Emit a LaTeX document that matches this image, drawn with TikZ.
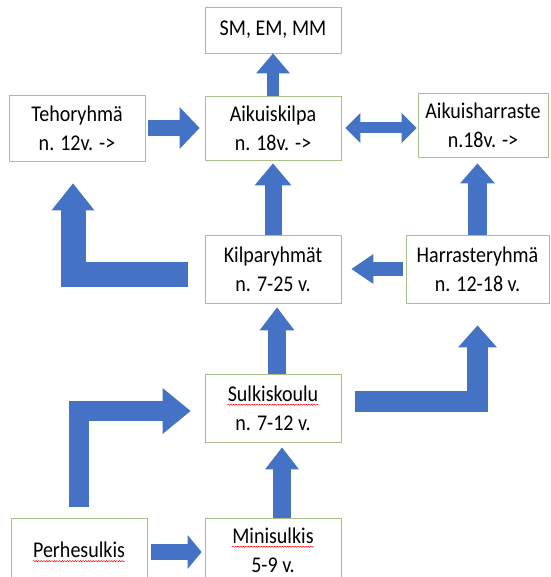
\documentclass[tikz,border=0pt]{standalone}
\usepackage{fontspec}
\setmainfont{Carlito}[FakeStretch=0.89]
\usetikzlibrary{arrows.meta, decorations.pathmorphing}
\definecolor{carrow}{HTML}{4472C4}
\definecolor{cframe}{HTML}{A9C08E}
% red wavy underline of the spell checker
\newcommand{\typo}[1]{\tikz[baseline=(wrd.base), x=1pt, y=1pt]{%
  \node[draw=none, fill=none, inner sep=0pt, minimum width=0pt, minimum height=0pt, anchor=base] (wrd) {#1};
  \draw[red, line width=0.5pt, decorate, decoration={snake, amplitude=0.6pt, segment length=2.6pt}]
    ([yshift=-3.5pt]wrd.base west) -- ([yshift=-3.5pt]wrd.base east);}}
\tikzset{
  box/.style={draw=cframe, line width=0.9pt, fill=white, align=center, inner sep=0pt,
    minimum width=136pt, minimum height=66pt, font=\fontsize{22.5}{29}\selectfont},
  blk/.style n args={3}{draw=carrow, line width=#1, line join=miter,
    -{Triangle[width=#2, length=#3, line width=0pt]}},
  blkboth/.style n args={3}{draw=carrow, line width=#1,
    {Triangle[width=#2, length=#3, line width=0pt]}-{Triangle[width=#2, length=#3, line width=0pt]}},
}

\begin{document}
\begin{tikzpicture}[x=1pt, y=-1pt]
  \useasboundingbox (0,0) rectangle (550,577);
  \clip (0,0) rectangle (550,577);
  % boxes
  \node[box, minimum height=46pt] (sm) at (273,30) {SM, EM, MM};
  \node[box] (teho) at (77,128) {Tehoryhmä\\n. 12v. ->};
  \node[box, minimum height=64pt] (aik) at (273,128) {Aikuiskilpa\\n. 18v. ->};
  \node[box, minimum width=130pt, minimum height=64pt] (aikh) at (483,125) {Aikuisharraste\\n.18v. ->};
  \node[box, minimum height=68pt] (kilpa) at (273,269) {Kilparyhmät\\n. 7-25 v.};
  \node[box, minimum width=143pt, minimum height=68pt] (harr) at (477.5,269) {Harrasteryhmä\\n. 12-18 v.};
  \node[box, minimum height=68pt] (sulk) at (273,408) {\typo{Sulkiskoulu}\\n. 7-12 v.};
  \node[box, minimum height=68pt] (perhe) at (79,552) {\typo{Perhesulkis}};
  \node[box, minimum height=64pt] (mini) at (273,550) {\typo{Minisulkis}\\5-9 v.};
  % straight block arrows
  \draw[blk={12pt}{34pt}{20pt}] (aik.north) -- (sm.south);
  \draw[blk={16pt}{42pt}{20pt}, shorten <=3pt, shorten >=5pt] (teho.east) -- (teho.east -| aik.west);
  \draw[blkboth={11pt}{30pt}{15pt}, shorten <=4pt, shorten >=1pt] (aik.east) -- (aik.east -| aikh.west);
  \draw[blk={17pt}{37pt}{22pt}, shorten >=3pt] (kilpa.north) -- (aik.south);
  \draw[blk={19pt}{35pt}{20pt}, shorten >=6pt] (harr.north) -- (harr.north |- aikh.south);
  \draw[blk={14pt}{30pt}{22pt}, shorten <=3pt, shorten >=10pt] (harr.west) -- (kilpa.east);
  \draw[blk={18pt}{35pt}{23pt}, shorten >=4pt] ([xshift=4pt]sulk.north) -- ([xshift=4pt]kilpa.south);
  \draw[blk={18pt}{34pt}{22pt}, shorten >=5pt] ([xshift=9pt]mini.north) -- ([xshift=9pt]sulk.south);
  \draw[blk={16pt}{34pt}{14pt}, shorten <=4pt, shorten >=3pt] (perhe.east) -- (perhe.east -| mini.west);
  % bent block arrows
  \draw[blk={25pt}{43pt}{27pt}, shorten <=17pt, shorten >=22pt] ([yshift=-5pt]kilpa.west) -| ([xshift=-4pt]teho.south);
  \draw[blk={21pt}{39pt}{22pt}, shorten <=14pt, shorten >=22pt] ([yshift=7pt]sulk.east) -| (harr.south);
  \draw[blk={20pt}{46pt}{28pt}, shorten <=11pt, shorten >=14pt] (perhe.north) |- ([yshift=-3pt]sulk.west);
\end{tikzpicture}
\end{document}
